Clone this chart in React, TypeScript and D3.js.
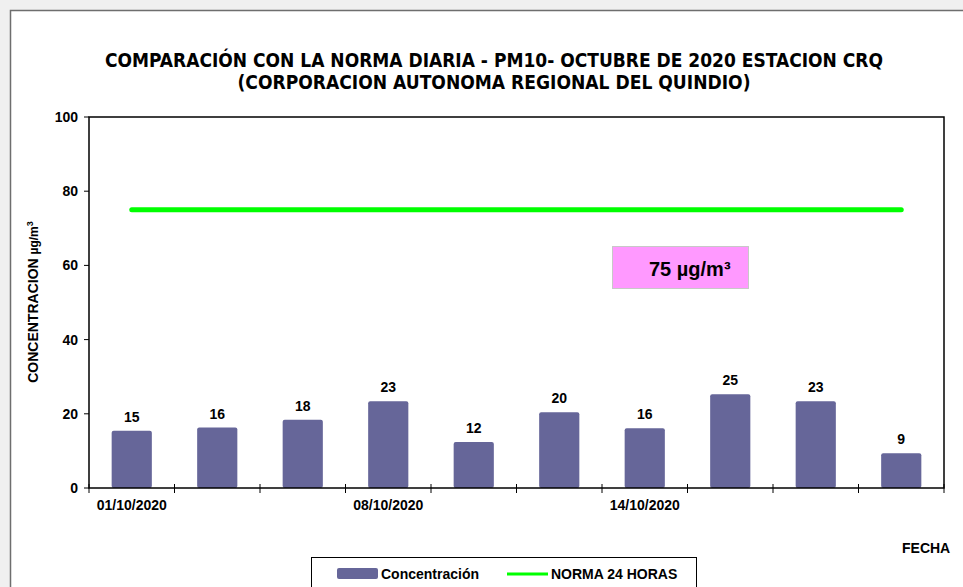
import React from "react";
import * as d3 from "d3";

// Daily PM10 samples, October 2020 (CRQ station)
const dates = [
  "01/10/2020", "03/10/2020", "05/10/2020", "08/10/2020", "10/10/2020",
  "12/10/2020", "14/10/2020", "17/10/2020", "20/10/2020", "23/10/2020",
];
const concentration = [15.4, 16.3, 18.4, 23.4, 12.4, 20.4, 16.1, 25.3, 23.4, 9.4];
const labeledDates = ["01/10/2020", "08/10/2020", "14/10/2020"];
const norma = 75;
const yTicks = [0, 20, 40, 60, 80, 100];

const titleLines = [
  "COMPARACIÓN CON LA NORMA DIARIA - PM10- OCTUBRE DE 2020 ESTACION CRQ",
  "(CORPORACION AUTONOMA REGIONAL DEL QUINDIO)",
];

const W = 963;
const H = 587;
const plot = { left: 89, right: 944, top: 117, bottom: 488 };
const font = "'Liberation Sans', Arial, sans-serif";
const barColor = "#666699";
const lineColor = "#00ff00";

const App: React.FC = () => {
  const x = d3.scaleBand<string>()
    .domain(dates)
    .range([plot.left, plot.right])
    .paddingInner(0.53)
    .paddingOuter(0.265);

  const y = d3.scaleLinear().domain([0, 100]).range([plot.bottom, plot.top]);

  const step = x.step();
  const bw = x.bandwidth();
  const center = (d: string) => (x(d) ?? 0) + bw / 2;

  // boundaries between categories, where Excel puts its tick marks
  const xTickPos = dates.map((d) => center(d) - step / 2).concat([center(dates[dates.length - 1]) + step / 2]);

  const normaLine = d3.line<string>()
    .x((d) => center(d))
    .y(() => y(norma));

  return (
    <svg
      width={W}
      height={H}
      style={{ position: "absolute", left: 0, top: 0, display: "block" }}
      fontFamily={font}
    >
      <rect x={0} y={0} width={W} height={H} fill="#f0f0f0" />
      <rect x={10.5} y={10.5} width={1000} height={1000} fill="#ffffff" stroke="#6e6e6e" strokeWidth={1.5} />

      {/* title */}
      <g fontFamily="'Liberation Sans Narrow', 'DejaVu Sans Condensed', sans-serif" fontWeight="bold" fontSize={19} textAnchor="middle" fill="#000">
        <text x={494} y={67} textLength={778} lengthAdjust="spacingAndGlyphs">{titleLines[0]}</text>
        <text x={494} y={89} textLength={513} lengthAdjust="spacingAndGlyphs">{titleLines[1]}</text>
      </g>

      {/* norm line */}
      <path d={normaLine([dates[0], dates[dates.length - 1]]) ?? ""} stroke={lineColor} strokeWidth={5} strokeLinecap="round" fill="none" />

      {/* bars */}
      {dates.map((d, i) => (
        <rect
          key={d}
          x={x(d)}
          y={y(concentration[i])}
          width={bw}
          height={y(0) - y(concentration[i])}
          rx={2}
          fill={barColor}
        />
      ))}

      {/* data labels */}
      <g fontSize={14} fontWeight="bold" textAnchor="middle" fill="#000">
        {dates.map((d, i) => (
          <text key={d} x={center(d)} y={y(concentration[i]) - 9}>
            {Math.round(concentration[i])}
          </text>
        ))}
      </g>

      {/* plot frame */}
      <rect
        x={plot.left}
        y={plot.top}
        width={plot.right - plot.left}
        height={plot.bottom - plot.top}
        fill="none"
        stroke="#000"
        strokeWidth={1.5}
      />

      {/* y axis */}
      <g fontSize={14} fontWeight="bold" textAnchor="end" fill="#000">
        {yTicks.map((t) => (
          <g key={t}>
            <line x1={84} x2={plot.left} y1={y(t)} y2={y(t)} stroke="#000" strokeWidth={1} />
            <text x={78} y={y(t)} dy="0.35em">{t}</text>
          </g>
        ))}
      </g>

      {/* x axis */}
      {xTickPos.map((px, i) => (
        <line key={i} x1={px} x2={px} y1={plot.bottom - 4} y2={plot.bottom + 5} stroke="#000" strokeWidth={1} />
      ))}
      <g fontSize={14} fontWeight="bold" textAnchor="middle" fill="#000">
        {labeledDates.map((d) => (
          <text key={d} x={center(d)} y={510}>{d}</text>
        ))}
      </g>

      {/* axis titles */}
      <text
        transform="translate(38,302) rotate(-90)"
        textAnchor="middle"
        fontSize={14}
        fontWeight="bold"
        fill="#000"
      >
        CONCENTRACION{" "}
        <tspan fontSize={12}>µg/m</tspan>
        <tspan fontSize={9} dy={-5}>3</tspan>
      </text>
      <text x={902} y={553} fontSize={14} fontWeight="bold" fill="#000">FECHA</text>

      {/* annotation */}
      <rect x={612.5} y={246.5} width={136} height={42} fill="#ff99ff" stroke="#c8c8c8" strokeWidth={1} />
      <text x={649} y={276} fontSize={20} fontWeight="bold" fill="#000">{`${norma} µg/m³`}</text>

      {/* legend */}
      <rect x={311.5} y={557.5} width={385} height={60} fill="#ffffff" stroke="#000" strokeWidth={1} />
      <rect x={337} y={568} width={41} height={11} rx={2} fill={barColor} />
      <text x={381} y={579} fontSize={14} fontWeight="bold" fill="#000">Concentración</text>
      <line x1={507} x2={548} y1={574} y2={574} stroke={lineColor} strokeWidth={3} />
      <text x={551} y={579} fontSize={14} fontWeight="bold" fill="#000">NORMA 24 HORAS</text>
    </svg>
  );
};

export default App;
